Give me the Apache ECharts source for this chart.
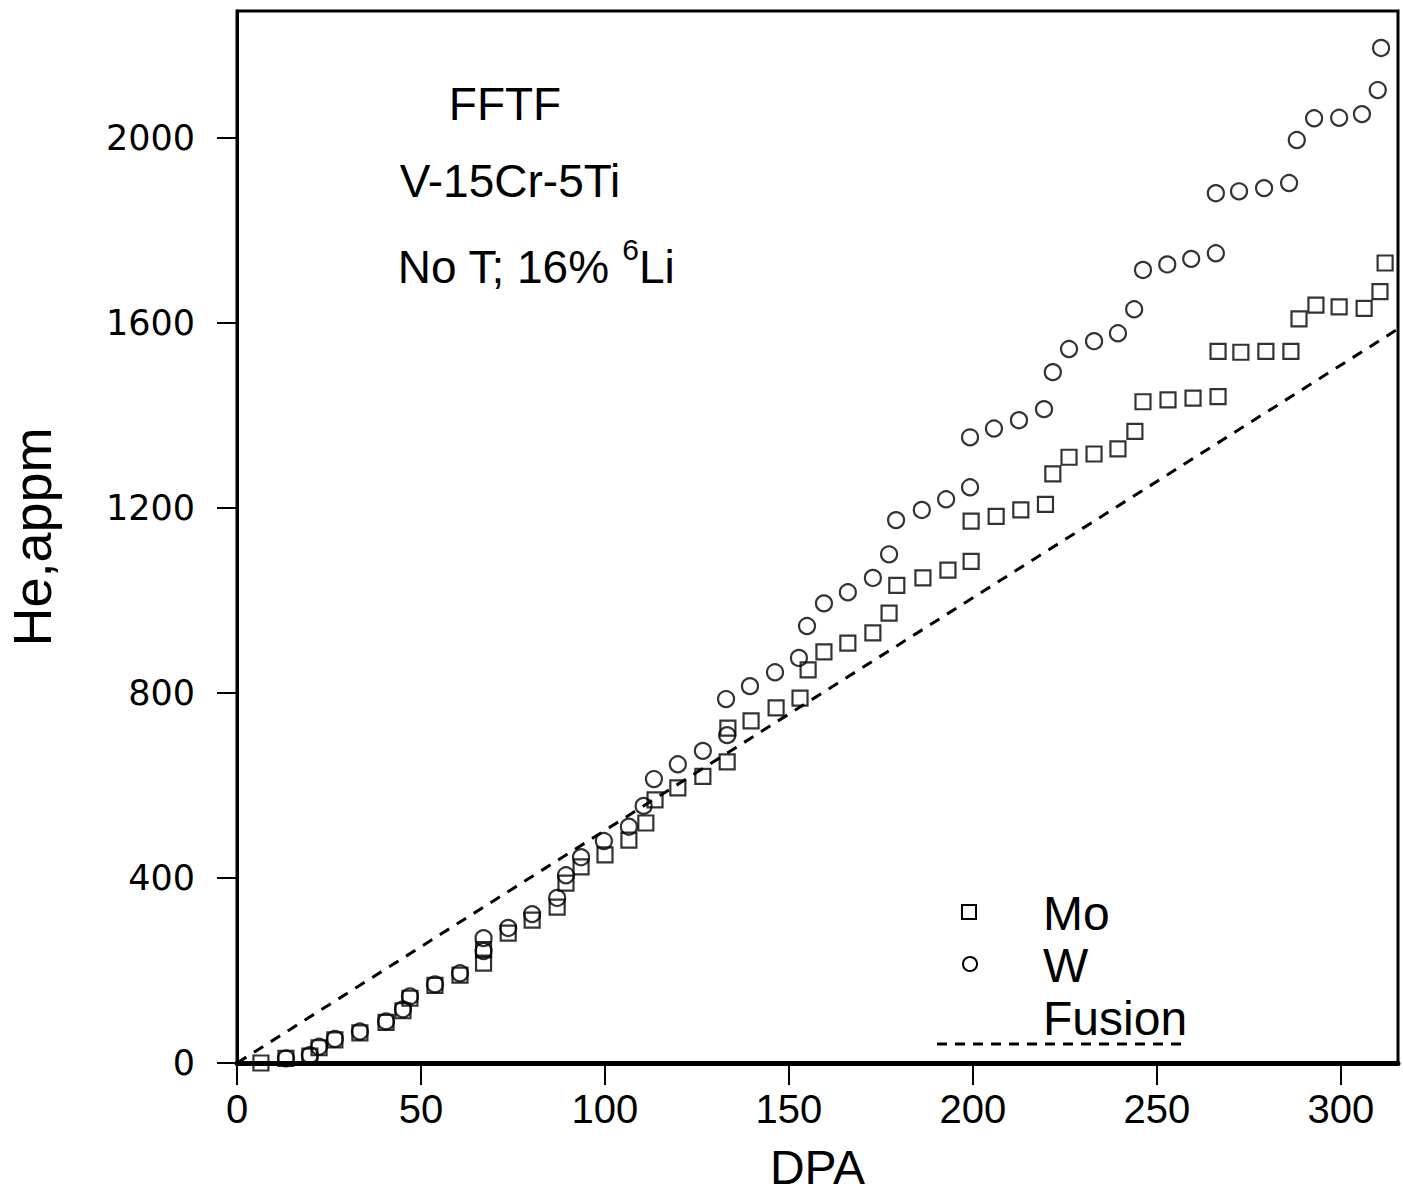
<!DOCTYPE html>
<html>
<head>
<meta charset="utf-8">
<script src="https://cdn.jsdelivr.net/npm/echarts@6/dist/echarts.min.js"></script>
<style>
html,body{margin:0;padding:0;background:#fff;}
#chart{width:1403px;height:1196px;}
</style>
</head>
<body>
<div id="chart"></div>
<script>
// ---- data ----
const xTicks = [0, 50, 100, 150, 200, 250, 300];
const yTicks = [0, 400, 800, 1200, 1600, 2000];

// Mo (squares): [DPA, He appm]
const moData = [
  [6.5, 0], [13.3, 10], [19.8, 15], [22.3, 33], [26.6, 50], [33.4, 65], [40.5, 88],
  [45.1, 113], [47, 140], [53.8, 168], [60.6, 190], [67, 216], [67, 245], [73.7, 281],
  [80.2, 309], [87, 337], [89.4, 389], [93.5, 424], [100, 450], [106.5, 482],
  [111.1, 519], [113.6, 569], [119.8, 595], [126.6, 620], [133.2, 651], [133.4, 724],
  [139.7, 740], [146.5, 768], [153, 789], [155.2, 850], [159.5, 889], [166, 908],
  [172.8, 930], [177.2, 973], [179.3, 1033], [186.4, 1049], [193.2, 1066], [199.5, 1085],
  [199.5, 1172], [206.3, 1182], [213, 1196], [219.7, 1208], [221.7, 1274], [226.1, 1310],
  [232.9, 1317], [239.4, 1328], [244, 1366], [246.2, 1430], [253, 1434], [259.8, 1438],
  [266.6, 1441], [266.6, 1539], [272.8, 1537], [279.6, 1539], [286.4, 1539], [288.6, 1609],
  [293.2, 1639], [299.5, 1635], [306.3, 1632], [310.6, 1668], [312, 1730]
];

// W (circles): [DPA, He appm]
const wData = [
  [13.3, 10], [19.8, 17], [22.3, 35], [26.6, 52], [33.4, 68], [40.5, 90], [45.1, 116],
  [47, 144], [53.8, 170], [60.6, 194], [67, 242], [67, 270], [73.7, 292], [80.2, 322],
  [87, 357], [89.4, 406], [93.5, 445], [99.7, 480], [106.5, 511], [110.5, 556],
  [113.3, 614], [119.8, 646], [126.6, 675], [133.2, 709], [132.9, 787], [139.4, 815],
  [146.2, 845], [152.7, 876], [154.9, 945], [159.5, 994], [166, 1018], [172.8, 1049],
  [177.2, 1100], [179.1, 1174], [186.1, 1196], [192.7, 1219], [199.2, 1245], [199.2, 1353],
  [205.7, 1372], [212.5, 1390], [219.3, 1414], [221.7, 1494], [226.1, 1544], [232.9, 1561],
  [239.4, 1578], [243.8, 1630], [246.2, 1715], [252.8, 1727], [259.3, 1739], [266, 1751],
  [266, 1881], [272.3, 1885], [279.1, 1892], [285.9, 1903], [288, 1996], [292.7, 2043],
  [299.5, 2044], [305.7, 2052], [310, 2104], [310.9, 2195]
];

// Fusion reference line (end points)
const fusionData = [[0, 0], [320, 1610]];

const xMin = 0, xMax = 315.5;
const yMin = 0, yMax = 2275;

// ---- chart ----
const chart = echarts.init(document.getElementById('chart'), null, {renderer: 'svg'});
const FONT = 'Liberation Sans, Arial, sans-serif';

const option = {
  backgroundColor: '#fff',
  animation: false,
  grid: {
    left: 237, right: 5, top: 11, bottom: 133,
    containLabel: false, outerBoundsMode: 'none',
    show: true, borderColor: '#000', borderWidth: 3, backgroundColor: 'transparent'
  },
  xAxis: {
    type: 'value', min: xMin, max: xMax, interval: 50,
    name: 'DPA', nameLocation: 'middle', nameGap: 80,
    nameTextStyle: {fontFamily: FONT, fontSize: 48, color: '#000'},
    axisLine: {show: true, onZero: false, lineStyle: {color: '#000', width: 5}},
    axisTick: {show: true, inside: false, length: 22, lineStyle: {color: '#000', width: 2}, customValues: xTicks},
    axisLabel: {fontFamily: FONT, fontSize: 40, color: '#000', margin: 26, customValues: xTicks,
      formatter: function (v) { return String(v); }},
    splitLine: {show: false}
  },
  yAxis: {
    type: 'value', min: yMin, max: yMax, interval: 400,
    name: 'He,appm', nameLocation: 'middle', nameGap: 178, nameRotate: 90,
    nameTextStyle: {fontFamily: FONT, fontSize: 54, color: '#000'},
    axisLine: {show: true, onZero: false, lineStyle: {color: '#000', width: 3}},
    axisTick: {show: true, inside: false, length: 20, lineStyle: {color: '#000', width: 2}, customValues: yTicks},
    axisLabel: {fontFamily: 'DejaVu Sans, sans-serif', fontSize: 35, color: '#000', margin: 42, customValues: yTicks,
      formatter: function (v) { return String(v); }},
    splitLine: {show: false}
  },
  series: [
    {
      name: 'Fusion', type: 'line', data: fusionData, symbol: 'none', clip: true,
      lineStyle: {color: '#000', width: 3, type: [11, 9]}, z: 1
    },
    {
      name: 'Mo', type: 'scatter', data: moData, symbol: 'rect', symbolSize: 15,
      itemStyle: {color: 'rgba(255,255,255,0)', borderColor: '#000', borderWidth: 2.2}, z: 3
    },
    {
      name: 'W', type: 'scatter', data: wData, symbol: 'circle', symbolSize: 16,
      itemStyle: {color: 'rgba(255,255,255,0)', borderColor: '#000', borderWidth: 2.2}, z: 3
    }
  ],
  graphic: [
    // annotation text
    {type: 'text', x: 505, y: 104, style: {text: 'FFTF', font: '46px ' + FONT, fill: '#000', align: 'center', verticalAlign: 'middle'}},
    {type: 'text', x: 510, y: 181, style: {text: 'V-15Cr-5Ti', font: '46px ' + FONT, fill: '#000', align: 'center', verticalAlign: 'middle'}},
    {type: 'text', x: 536, y: 262, style: {
      text: '{a|No T; 16% }{s|6}{a|Li}', fill: '#000', align: 'center', verticalAlign: 'middle',
      rich: {
        a: {fontFamily: FONT, fontSize: 46, lineHeight: 56, verticalAlign: 'bottom'},
        s: {fontFamily: FONT, fontSize: 30, lineHeight: 56, verticalAlign: 'top'}
      }
    }},
    // legend
    {type: 'rect', shape: {x: 962, y: 905, width: 14, height: 14}, style: {fill: 'none', stroke: '#000', lineWidth: 2}},
    {type: 'circle', shape: {cx: 970, cy: 964, r: 7}, style: {fill: 'none', stroke: '#000', lineWidth: 2}},
    {type: 'text', x: 1043, y: 913, style: {text: 'Mo', font: '48px ' + FONT, fill: '#000', align: 'left', verticalAlign: 'middle'}},
    {type: 'text', x: 1043, y: 965, style: {text: 'W', font: '48px ' + FONT, fill: '#000', align: 'left', verticalAlign: 'middle'}},
    {type: 'text', x: 1043, y: 1018, style: {text: 'Fusion', font: '48px ' + FONT, fill: '#000', align: 'left', verticalAlign: 'middle'}},
    {type: 'line', shape: {x1: 937, y1: 1044, x2: 1186, y2: 1044}, style: {stroke: '#000', lineWidth: 3, lineDash: [10, 8]}}
  ]
};
chart.setOption(option);
</script>
</body>
</html>
